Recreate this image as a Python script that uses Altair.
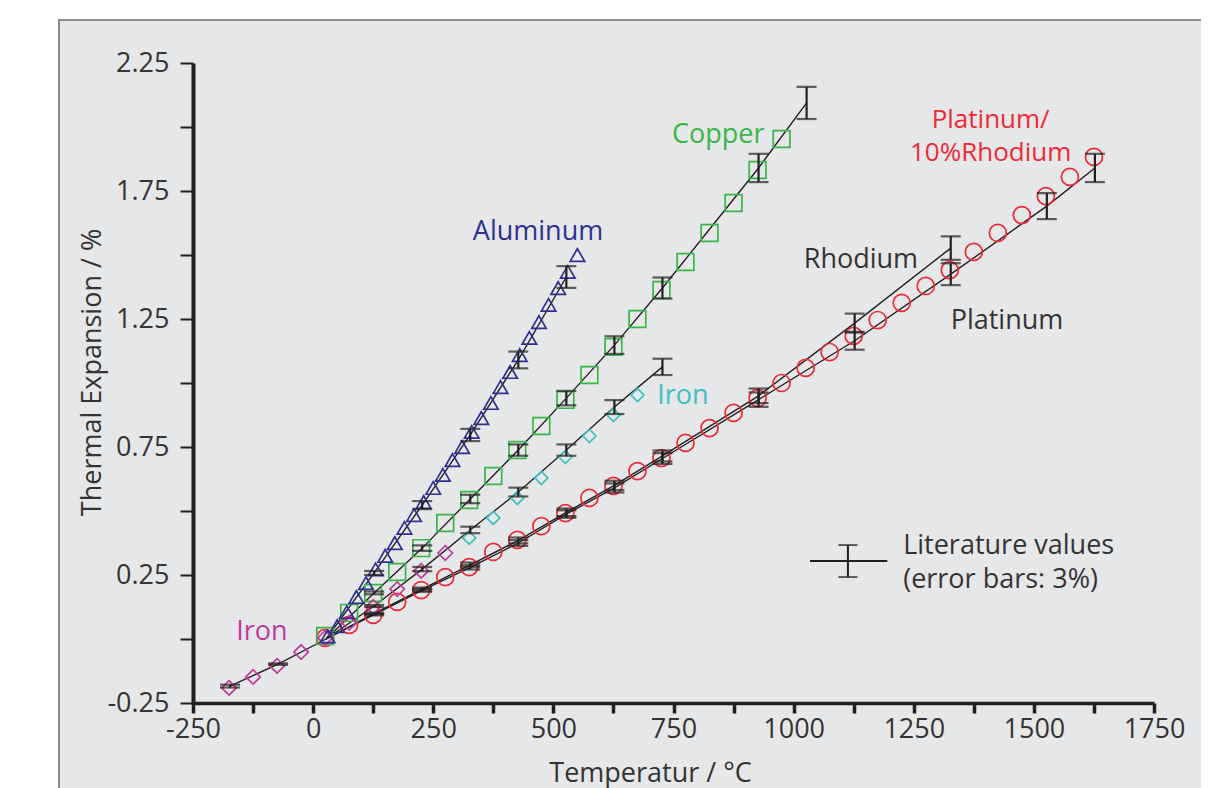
import altair as alt
import pandas as pd

# ---------------- measured data ----------------
al_t = [30, 50, 70, 90, 110, 130, 150, 170, 190, 210, 230, 250, 270, 290, 310,
        330, 350, 370, 390, 410, 430, 450, 470, 490, 510, 530, 550]
al_v = [0.01, 0.05, 0.105, 0.164, 0.218, 0.272, 0.325, 0.375, 0.434, 0.484, 0.535,
        0.590, 0.641, 0.699, 0.750, 0.809, 0.863, 0.922, 0.984, 1.043, 1.109,
        1.176, 1.238, 1.305, 1.371, 1.434, 1.500]

cu_t = [25, 75, 125, 175, 225, 275, 325, 375, 425, 475, 525, 575, 625, 675, 725,
        775, 825, 875, 925, 975]
cu_v = [0.012, 0.102, 0.180, 0.262, 0.355, 0.453, 0.543, 0.637, 0.738, 0.832,
        0.934, 1.031, 1.141, 1.250, 1.363, 1.473, 1.586, 1.703, 1.832, 1.953]

fe_low_t = [-175, -125, -75, -25, 25, 75, 125, 175, 225, 275]
fe_low_v = [-0.191, -0.148, -0.105, -0.051, 0.004, 0.063, 0.125, 0.195, 0.266, 0.336]

fe_high_t = [325, 375, 425, 475, 525, 575, 625, 675]
fe_high_v = [0.395, 0.473, 0.551, 0.629, 0.711, 0.793, 0.875, 0.953]

ptrh_t = [25, 75, 125, 175, 225, 275, 325, 375, 425, 475, 525, 575, 625, 675, 725,
          775, 825, 875, 925, 975, 1025, 1075, 1125, 1175, 1225, 1275, 1325, 1375,
          1425, 1475, 1525, 1575, 1625]
ptrh_v = [0.004, 0.055, 0.094, 0.145, 0.191, 0.242, 0.281, 0.340, 0.387, 0.441,
          0.492, 0.551, 0.598, 0.656, 0.707, 0.766, 0.824, 0.883, 0.941, 1.000,
          1.059, 1.121, 1.184, 1.246, 1.313, 1.379, 1.441, 1.512, 1.586, 1.656,
          1.730, 1.805, 1.883]

# ---------------- literature values ----------------
lit_al_t = [27, 127, 227, 327, 427, 527]
lit_al_v = [0.0, 0.258, 0.523, 0.797, 1.090, 1.414]
lit_cu_t = [27, 127, 227, 327, 427, 527, 627, 727, 927, 1027]
lit_cu_v = [0.0, 0.180, 0.355, 0.547, 0.738, 0.941, 1.148, 1.371, 1.840, 2.094]
lit_fe_t = [-173, -73, 27, 127, 227, 327, 427, 527, 627, 727]
lit_fe_v = [-0.184, -0.098, 0.0, 0.129, 0.273, 0.426, 0.574, 0.738, 0.906, 1.063]
lit_rh_t = [27, 127, 227, 327, 427, 527, 627, 727, 927, 1127, 1327]
lit_rh_v = [0.0, 0.100, 0.195, 0.290, 0.385, 0.495, 0.600, 0.715, 0.950, 1.234, 1.527]
lit_pt_t = [27, 127, 227, 327, 427, 527, 627, 727, 927, 1127, 1327, 1527, 1627]
lit_pt_v = [0.0, 0.095, 0.190, 0.280, 0.375, 0.488, 0.590, 0.705, 0.935, 1.165,
            1.425, 1.691, 1.840]
err_frac = 0.03

# ---------------- annotations ----------------
lab_text = ["Aluminum", "Copper", "Rhodium", "Platinum"]
lab_x = [468, 843, 1140, 1444]
lab_y = [1.590, 1.969, 1.480, 1.242]
lab_col = ["#2e3192", "#39b54a", "#333333", "#333333"]

ptrh_label = "Platinum/\n10%Rhodium"
ptrh_label_x = 1410
ptrh_label_y = 2.027

labl_text = ["Iron", "Iron", "Literature values\n(error bars: 3%)"]
labl_x = [716, -160, 1228]
labl_y = [0.949, 0.027, 0.363]
labl_col = ["#40c0c0", "#bf3b9b", "#333333"]

leg_line_x = [1034, 1195]
leg_y = 0.305
leg_bar_x = 1113
leg_bar = [0.242, 0.367]

FONT = "Open Sans"
INK = "#231f20"

xs = alt.Scale(domain=[-250, 1750], nice=False, zero=False)
ys = alt.Scale(domain=[-0.25, 2.25], nice=False, zero=False)

x_axis = alt.Axis(
    values=[-250, -125, 0, 125, 250, 375, 500, 625, 750, 875, 1000, 1125, 1250,
            1375, 1500, 1625, 1750],
    labelExpr="datum.value % 250 == 0 ? (datum.value < 0 ? '-' : '') + format(abs(datum.value), 'd') : ''",
    title="Temperatur / °C", tickSize=10, tickWidth=3.5, domainWidth=3.5,
    labelPadding=3, titleX=457, titleY=78, titleBaseline="alphabetic",
    labelOverlap=False, labelFlush=False, labelBound=False, grid=False, zindex=1)
y_axis = alt.Axis(
    values=[-0.25, 0, 0.25, 0.5, 0.75, 1.0, 1.25, 1.5, 1.75, 2.0, 2.25],
    labelExpr="(round(datum.value*100) + 25) % 50 == 0 ? (datum.value < 0 ? '-' : '') + format(abs(datum.value), '.2f') : ''",
    title="Thermal Expansion / %", tickSize=13, tickWidth=2, domainWidth=4,
    labelPadding=11, titleX=-101, titleY=309, titleAngle=-90,
    titleBaseline="middle", titleAlign="center", labelOverlap=False,
    labelFlush=False, labelBound=False, grid=False, zindex=1)

# background panel (decoration)
bg = alt.Chart(alt.Data(values=[{"k": 1}])).mark_rect(
    fill="#e6e7e9", stroke="#8c8c8c", strokeWidth=2
).encode(x=alt.value(-134), x2=alt.value(1200), y=alt.value(-43), y2=alt.value(900))

# literature table
lit_rows = []
for name, ts, vs in [("al", lit_al_t, lit_al_v), ("cu", lit_cu_t, lit_cu_v),
                     ("fe", lit_fe_t, lit_fe_v), ("rh", lit_rh_t, lit_rh_v),
                     ("pt", lit_pt_t, lit_pt_v)]:
    for t, v in zip(ts, vs):
        e = err_frac * abs(v)
        lit_rows.append({"s": name, "t": t, "v": v, "lo": v - e, "hi": v + e})
lit = pd.DataFrame(lit_rows)
litb = lit[lit["v"] != 0]

lines = alt.Chart(lit).mark_line(color=INK, strokeWidth=1.4).encode(
    x=alt.X("t:Q", scale=xs, axis=x_axis),
    y=alt.Y("v:Q", scale=ys, axis=y_axis),
    detail="s:N", order="t:Q")

ebar = alt.Chart(litb).mark_rule(color=INK, strokeWidth=2.2).encode(
    x=alt.X("t:Q", scale=xs), y=alt.Y("lo:Q", scale=ys), y2="hi:Q")
cap_lo = alt.Chart(litb).mark_tick(color=INK, orient="horizontal", size=20, thickness=2.2).encode(
    x=alt.X("t:Q", scale=xs), y=alt.Y("lo:Q", scale=ys))
cap_hi = alt.Chart(litb).mark_tick(color=INK, orient="horizontal", size=20, thickness=2.2).encode(
    x=alt.X("t:Q", scale=xs), y=alt.Y("hi:Q", scale=ys))


def pts(ts, vs, shape, color, size):
    df = pd.DataFrame({"t": ts, "v": vs})
    return alt.Chart(df).mark_point(shape=shape, color=color, size=size,
                                    strokeWidth=1.7, filled=False, opacity=1).encode(
        x=alt.X("t:Q", scale=xs), y=alt.Y("v:Q", scale=ys))


m_pt = pts(ptrh_t, ptrh_v, "circle", "#ee2a35", 290)
m_cu = pts(cu_t, cu_v, "square", "#39b54a", 280)
m_fe1 = pts(fe_low_t, fe_low_v, "diamond", "#bf3b9b", 210)
m_fe2 = pts(fe_high_t, fe_high_v, "diamond", "#40c0c0", 170)
m_al = pts(al_t, al_v, "triangle-up", "#2e3192", 210)

lab_df = pd.DataFrame({"text": lab_text, "x": lab_x, "y": lab_y, "c": lab_col})
labl_df = pd.DataFrame({"text": labl_text, "x": labl_x, "y": labl_y, "c": labl_col})
ptrh_df = pd.DataFrame({"text": [ptrh_label], "x": [ptrh_label_x], "y": [ptrh_label_y]})

txt_c = alt.Chart(lab_df).mark_text(align="center", baseline="middle", font=FONT,
                                    fontSize=27).encode(
    x=alt.X("x:Q", scale=xs), y=alt.Y("y:Q", scale=ys), text="text:N",
    color=alt.Color("c:N", scale=None))
txt_l = alt.Chart(labl_df).mark_text(align="left", baseline="middle", font=FONT,
                                     fontSize=27, lineBreak="\n", lineHeight=34).encode(
    x=alt.X("x:Q", scale=xs), y=alt.Y("y:Q", scale=ys), text="text:N",
    color=alt.Color("c:N", scale=None))
txt_ptrh = alt.Chart(ptrh_df).mark_text(align="center", baseline="middle", font=FONT,
                                        fontSize=26, lineBreak="\n", lineHeight=33,
                                        color="#ee2a35").encode(
    x=alt.X("x:Q", scale=xs), y=alt.Y("y:Q", scale=ys), text="text:N")

leg_df = pd.DataFrame({"x1": [leg_line_x[0]], "x2": [leg_line_x[1]], "y": [leg_y],
                       "bx": [leg_bar_x], "lo": [leg_bar[0]], "hi": [leg_bar[1]]})
leg_line = alt.Chart(leg_df).mark_rule(color=INK, strokeWidth=2).encode(
    x=alt.X("x1:Q", scale=xs), x2="x2:Q", y=alt.Y("y:Q", scale=ys))
leg_bar_r = alt.Chart(leg_df).mark_rule(color=INK, strokeWidth=2).encode(
    x=alt.X("bx:Q", scale=xs), y=alt.Y("lo:Q", scale=ys), y2="hi:Q")
leg_cap1 = alt.Chart(leg_df).mark_tick(color=INK, orient="horizontal", size=19, thickness=2).encode(
    x=alt.X("bx:Q", scale=xs), y=alt.Y("lo:Q", scale=ys))
leg_cap2 = alt.Chart(leg_df).mark_tick(color=INK, orient="horizontal", size=19, thickness=2).encode(
    x=alt.X("bx:Q", scale=xs), y=alt.Y("hi:Q", scale=ys))

chart = alt.layer(
    bg, lines, m_pt, m_cu, m_fe1, m_fe2, m_al, ebar, cap_lo, cap_hi,
    txt_c, txt_l, txt_ptrh, leg_line, leg_bar_r, leg_cap1, leg_cap2
).properties(
    width=961, height=640,
    autosize=alt.AutoSizeParams(type="none"),
    padding={"left": 185, "top": 55, "right": 47, "bottom": 85},
    background="white",
).configure_view(stroke=None).configure_axis(
    labelFont=FONT, labelFontSize=27, labelColor="#333333",
    titleFont=FONT, titleFontSize=27, titleColor="#333333", titleFontWeight="normal",
    domainColor=INK, tickColor=INK,
)

chart.save("out.html", embed_options={"renderer": "svg", "actions": False})
